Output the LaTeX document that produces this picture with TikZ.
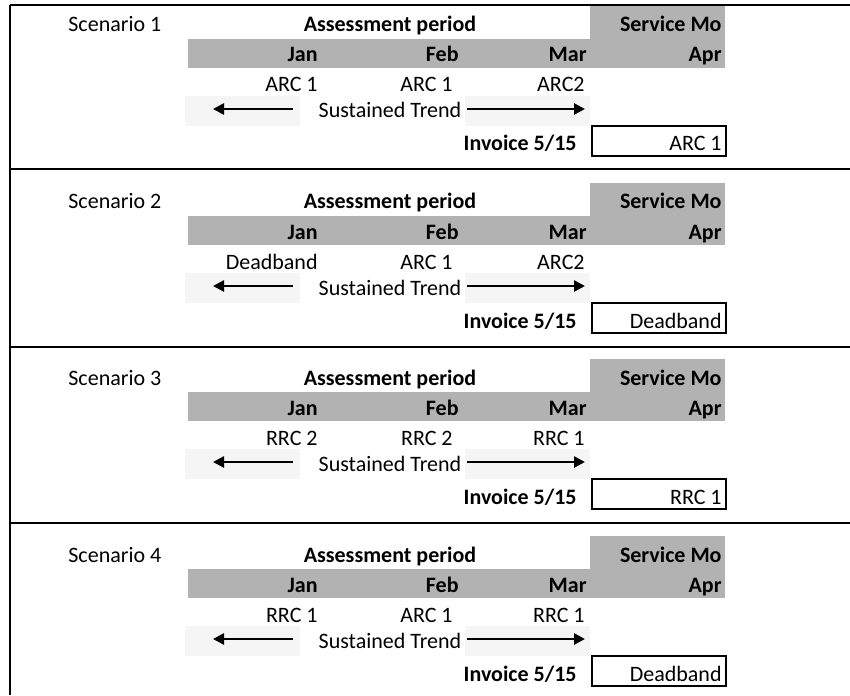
\documentclass[tikz,border=0pt]{standalone}
\usepackage{fontspec}
\setmainfont{Carlito}
\usetikzlibrary{arrows.meta}
\begin{document}
\begin{tikzpicture}[x=0.5pt,y=-0.5pt,
  font=\fontsize{11}{13}\selectfont,
  lbl/.style={inner sep=0pt, anchor=base east},
  hd/.style={lbl, font=\fontsize{11}{13}\selectfont\bfseries},
  band/.style={fill=black!30, draw=none},
  speck/.style={fill=black!4, draw=none},
  frame/.style={line width=1pt},
  trend/.style={line width=1.3pt, -{Triangle[length=5.5pt,width=5.5pt]}},
  res/.style={draw, line width=0.7pt, inner sep=0pt, minimum width=67pt, minimum height=15pt}]
\useasboundingbox (0,0) rectangle (850,695);
% frame lines
\draw[frame] (10,5) -- (850,5);
\draw[frame] (10,169) -- (850,169);
\draw[frame] (10,347) -- (850,347);
\draw[frame] (10,523) -- (850,523);
\draw[frame] (10,5) -- (10,695);
\foreach \i/\S/\a/\b/\c/\r in {1/25/ARC 1/ARC 1/ARC2/ARC 1,
                              2/202/Deadband/ARC 1/ARC2/Deadband,
                              3/378/RRC 2/RRC 2/RRC 1/RRC 1,
                              4/555/RRC 1/ARC 1/RRC 1/Deadband}{
  \fill[band] (590,\S-19) rectangle (725,\S+43);
  \fill[band] (188,\S+14) rectangle (725,\S+43);
  \fill[speck] (185,\S+71) rectangle (300,\S+101);
  \fill[speck] (465,\S+71) rectangle (590,\S+101);
  \node[lbl, anchor=base west] (scen\i) at (68,\S+7) {Scenario \i};
  \node[hd, anchor=base] (ap\i) at (390,\S+7) {Assessment period};
  \node[hd] (sm\i) at (722,\S+7) {Service Mo};
  \node[hd] (jan\i) at (318,\S+37) {Jan};
  \node[hd] (feb\i) at (459,\S+37) {Feb};
  \node[hd] (mar\i) at (587,\S+37) {Mar};
  \node[hd] (apr\i) at (722,\S+37) {Apr};
  \node[lbl] (va\i) at (318,\S+67) {\a};
  \node[lbl] (vb\i) at (453,\S+67) {\b};
  \node[lbl] (vc\i) at (585,\S+67) {\c};
  \node[lbl, anchor=base] (st\i) at (390,\S+93) {Sustained Trend};
  \coordinate (lt\i) at (293,\S+84);
  \coordinate (lh\i) at (213,\S+84);
  \coordinate (rt\i) at (467,\S+84);
  \coordinate (rh\i) at (585,\S+84);
  \draw[trend] (lt\i) -- (lh\i);
  \draw[trend] (rt\i) -- (rh\i);
  \node[hd] (inv\i) at (577,\S+126) {Invoice 5/15};
  \node[res] (box\i) at (659,\S+116) {};
  \node[lbl, anchor=base east] (rv\i) at (722,\S+126) {\r};
}
\end{tikzpicture}
\end{document}
